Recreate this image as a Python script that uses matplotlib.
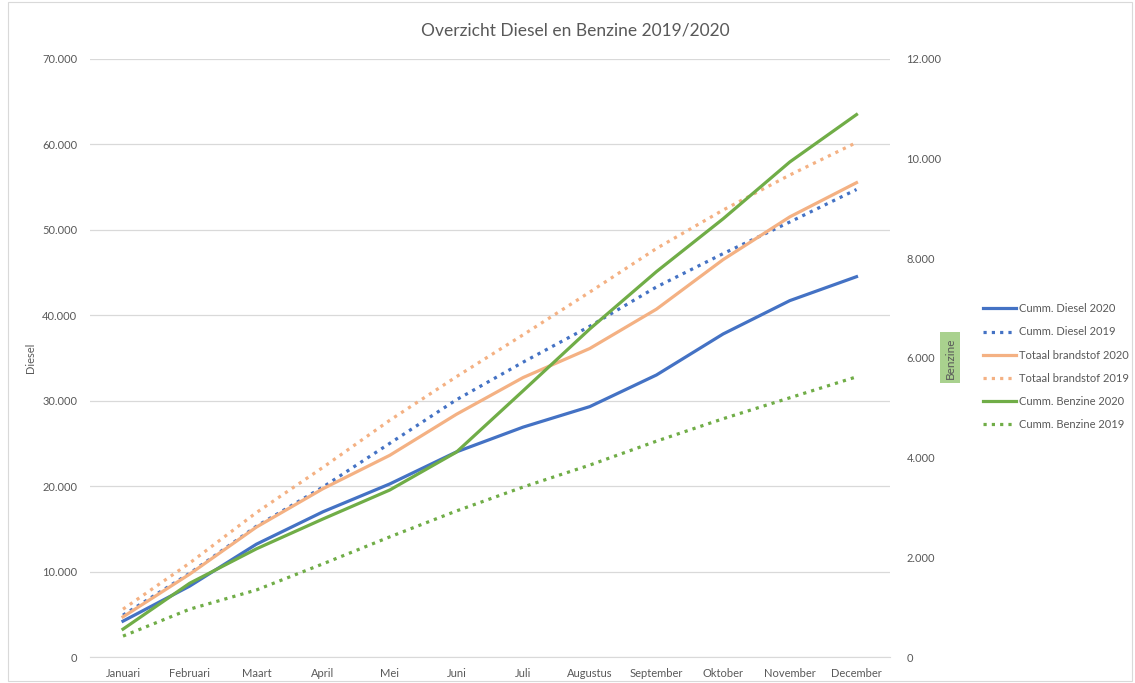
import matplotlib
matplotlib.use('Agg')
import matplotlib.pyplot as plt
from matplotlib.ticker import FuncFormatter, MultipleLocator
from matplotlib.patches import Rectangle

plt.rcParams['font.family'] = ['Lato', 'DejaVu Sans']

maanden = ["Januari", "Februari", "Maart", "April", "Mei", "Juni", "Juli",
           "Augustus", "September", "Oktober", "November", "December"]

# left axis (Diesel)
diesel_2020 = [4200, 8300, 13200, 17000, 20250, 24000, 26900, 29300, 33000, 37800, 41700, 44500]
diesel_2019 = [4900, 9800, 15300, 19900, 25000, 30100, 34500, 38700, 43300, 47200, 50900, 54700]
totaal_2020 = [4700, 9700, 15200, 19700, 23600, 28400, 32700, 36100, 40700, 46500, 51500, 55500]
totaal_2019 = [5600, 11000, 16900, 22200, 27700, 32800, 37700, 42700, 47800, 52300, 56400, 60200]

# right axis (Benzine)
benzine_2020 = [560, 1480, 2170, 2770, 3350, 4110, 5340, 6580, 7730, 8790, 9930, 10880]
benzine_2019 = [420, 960, 1345, 1870, 2410, 2930, 3410, 3850, 4330, 4780, 5200, 5620]

BLUE = "#4472c4"
ORANGE = "#f4b183"
GREEN = "#70ad47"
GREY = "#595959"

dots = (0, (1, 1.6))


def nl_fmt(v, pos):
    return f"{int(round(v)):,}".replace(",", ".")


fig = plt.figure(figsize=(11.35, 6.83), dpi=100)
fig.patches.append(Rectangle((0.007, 0.003), 0.99, 0.994, transform=fig.transFigure,
                             fill=False, edgecolor="#d9d9d9", lw=0.8))
ax = fig.add_axes([0.079, 0.038, 0.705, 0.876])
ax2 = ax.twinx()

x = range(len(maanden))
l1, = ax.plot(x, diesel_2020, color=BLUE, lw=2.3, label="Cumm. Diesel 2020")
l2, = ax.plot(x, diesel_2019, color=BLUE, lw=2.3, ls=dots, label="Cumm. Diesel 2019")
l3, = ax.plot(x, totaal_2020, color=ORANGE, lw=2.3, label="Totaal brandstof 2020")
l4, = ax.plot(x, totaal_2019, color=ORANGE, lw=2.3, ls=dots, label="Totaal brandstof 2019")
l5, = ax2.plot(x, benzine_2020, color=GREEN, lw=2.3, label="Cumm. Benzine 2020")
l6, = ax2.plot(x, benzine_2019, color=GREEN, lw=2.3, ls=dots, label="Cumm. Benzine 2019")

ax.set_xlim(-0.5, 11.5)
ax.set_ylim(0, 70000)
ax2.set_ylim(0, 12000)
ax.yaxis.set_major_locator(MultipleLocator(10000))
ax2.yaxis.set_major_locator(MultipleLocator(2000))
ax.yaxis.set_major_formatter(FuncFormatter(nl_fmt))
ax2.yaxis.set_major_formatter(FuncFormatter(nl_fmt))
ax.set_xticks(list(x))
ax.set_xticklabels(maanden)

ax.grid(axis="y", color="#d9d9d9", lw=0.9)
ax.set_axisbelow(True)
for a in (ax, ax2):
    for s in a.spines.values():
        s.set_visible(False)
ax.spines["bottom"].set_visible(True)
ax.spines["bottom"].set_color("#d9d9d9")
ax.tick_params(axis="both", length=0, labelsize=8, labelcolor=GREY)
ax.tick_params(axis="y", pad=9)
ax.tick_params(axis="x", pad=8)
ax2.tick_params(axis="y", length=0, labelsize=8, labelcolor=GREY, pad=12)

ax.set_ylabel("Diesel", fontsize=8, color=GREY, labelpad=4)
fig.text(0.837, 0.476, "Benzine", rotation=90, fontsize=8.5, color=GREY,
         ha="center", va="center",
         bbox=dict(boxstyle="square,pad=0.4", facecolor="#a9d18e", edgecolor="none"))

fig.text(0.507, 0.956, "Overzicht Diesel en Benzine 2019/2020", fontsize=12.5,
         color=GREY, ha="center", va="center")

fig.legend(handles=[l1, l2, l3, l4, l5, l6], loc="center left",
           bbox_to_anchor=(0.857, 0.463), frameon=False, fontsize=8,
           labelcolor=GREY, handlelength=3.0, handletextpad=0.25, labelspacing=1.1)

plt.savefig("out.png", dpi=100, facecolor="w")
